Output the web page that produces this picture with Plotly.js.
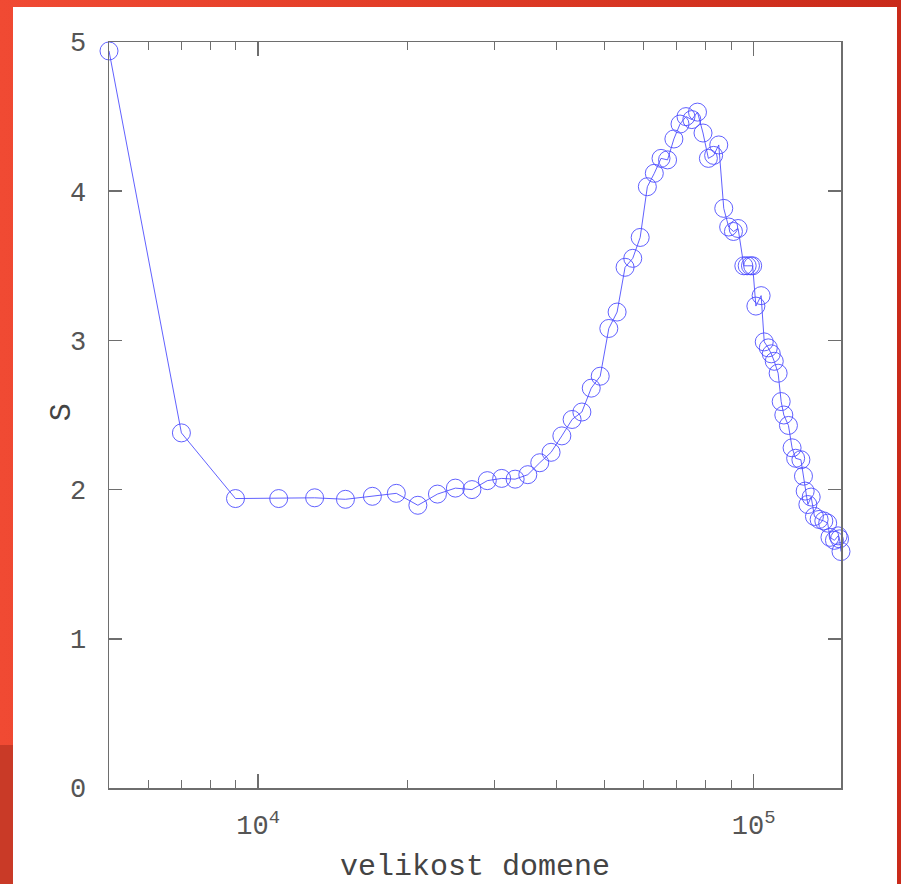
<!DOCTYPE html>
<html>
<head>
<meta charset="utf-8">
<script src="https://cdn.plot.ly/plotly-3.0.1.min.js"></script>
<style>
  html, body { margin: 0; padding: 0; width: 901px; height: 884px; overflow: hidden; }
  body { background: linear-gradient(90deg, #f04a33 0%, #e23d27 45%, #c92a1a 100%); position: relative; }
  #lowleft { position: absolute; left: 0; top: 745px; width: 14px; height: 139px; background: #c93a27; }
  #panel { position: absolute; left: 13px; top: 7px; width: 884px; height: 877px; background: #ffffff; }
  #chart { position: absolute; left: 0; top: 0; width: 901px; height: 884px; }
</style>
</head>
<body>
<div id="lowleft"></div>
<div id="panel"></div>
<div id="chart"></div>
<script>
// domain size (x) and S (y)
const domainSize = [
  5000, 7000, 9000, 11000, 13000, 15000, 17000, 19000, 21000, 23000,
  25000, 27000, 29000, 31000, 33000, 35000, 37000, 39000, 41000, 43000,
  45000, 47000, 49000, 51000, 53000, 55000, 57000, 59000, 61000, 63000,
  65000, 67000, 69000, 71000, 73000, 75000, 77000, 79000, 81000, 83000,
  85000, 87000, 89000, 91000, 93000, 95500, 97000, 98500, 99500, 101000,
  103500, 105000, 107000, 108500, 110000, 112000, 113600, 115000, 117500, 119500,
  121500, 124500, 126000, 127000, 128600, 130600, 132600, 135500, 138500, 141000,
  142500, 145500, 148000, 149000, 150000
];
const sValues = [
  4.94, 2.38, 1.94, 1.94, 1.945, 1.935, 1.955, 1.975, 1.895, 1.97,
  2.01, 2.00, 2.06, 2.075, 2.07, 2.10, 2.18, 2.25, 2.36, 2.47,
  2.52, 2.68, 2.76, 3.08, 3.19, 3.49, 3.55, 3.69, 4.03, 4.12,
  4.22, 4.21, 4.35, 4.45, 4.50, 4.48, 4.53, 4.39, 4.22, 4.24,
  4.31, 3.885, 3.76, 3.73, 3.75, 3.50, 3.50, 3.50, 3.50, 3.23,
  3.30, 2.99, 2.95, 2.91, 2.86, 2.78, 2.59, 2.50, 2.43, 2.28,
  2.21, 2.20, 2.09, 1.99, 1.90, 1.95, 1.82, 1.80, 1.79, 1.775,
  1.68, 1.66, 1.69, 1.67, 1.585
];
const xMajorTicks = [10000, 100000];
const xMajorLabels = ['10<sup>4</sup>', '10<sup>5</sup>'];
const xMinorTicks = [6000, 7000, 8000, 9000, 20000, 30000, 40000, 50000, 60000, 70000, 80000, 90000];
const yTicks = [0, 1, 2, 3, 4, 5];
const xTitle = 'velikost domene';
const yTitle = 'S';

const blue = 'rgba(75,75,255,0.88)';
const axisColor = '#6e6e6e';
const tickFont = { family: 'Liberation Mono, DejaVu Sans Mono, monospace', size: 27, color: '#555' };
const titleFont = { family: 'Liberation Mono, monospace', size: 30, color: '#444' };

const trace = {
  x: domainSize,
  y: sValues,
  type: 'scatter',
  mode: 'lines+markers',
  cliponaxis: false,
  line: { color: blue, width: 1 },
  marker: { symbol: 'circle-open', size: 18, color: blue, line: { width: 1, color: blue } },
  hoverinfo: 'skip'
};

const layout = {
  width: 901,
  height: 884,
  margin: { l: 109, r: 60, t: 42, b: 96, pad: 0 },
  paper_bgcolor: 'rgba(0,0,0,0)',
  plot_bgcolor: 'rgba(0,0,0,0)',
  showlegend: false,
  xaxis: {
    type: 'log',
    range: [Math.log10(5000), Math.log10(150000)],
    tickmode: 'array',
    tickvals: xMajorTicks,
    ticktext: xMajorLabels,
    ticks: 'inside',
    ticklen: 14,
    tickwidth: 1.5,
    tickcolor: axisColor,
    minor: { tickmode: 'array', tickvals: xMinorTicks, ticks: 'inside', ticklen: 8, tickwidth: 1, tickcolor: axisColor, showgrid: false },
    mirror: 'ticks',
    showline: true,
    linecolor: axisColor,
    linewidth: 1.5,
    showgrid: false,
    zeroline: false,
    tickfont: tickFont,
    ticklabelstandoff: 12,
    title: { text: xTitle, font: titleFont, standoff: 14 }
  },
  yaxis: {
    range: [0, 5],
    tickmode: 'array',
    tickvals: yTicks,
    ticks: 'inside',
    ticklen: 13,
    tickwidth: 1.5,
    tickcolor: axisColor,
    mirror: 'ticks',
    showline: true,
    linecolor: axisColor,
    linewidth: 1.5,
    showgrid: false,
    zeroline: false,
    tickfont: tickFont,
    ticklabelstandoff: 16
  },
  annotations: [{
    text: yTitle,
    xref: 'paper', yref: 'paper',
    x: -0.064, y: 0.504,
    xanchor: 'center', yanchor: 'middle',
    textangle: -90,
    showarrow: false,
    font: titleFont
  }]
};

Plotly.newPlot('chart', [trace], layout, { displayModeBar: false, staticPlot: true });
</script>
</body>
</html>
